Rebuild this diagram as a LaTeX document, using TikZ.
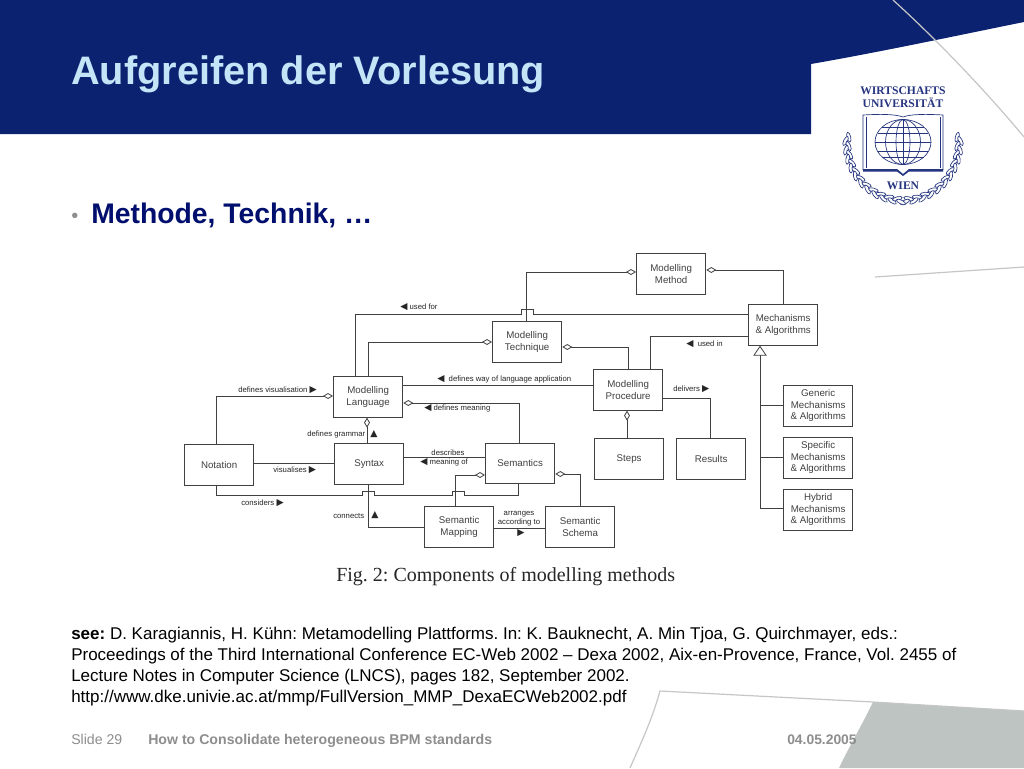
\documentclass[tikz,border=0pt]{standalone}
\usepackage{fontspec}
\setmainfont{Liberation Sans}
\newfontfamily\serifface{Liberation Serif}
\newfontfamily\symface{DejaVu Sans}
\usetikzlibrary{arrows.meta,positioning}
\definecolor{navy}{HTML}{0B2270}
\definecolor{titleblue}{HTML}{C4E4F8}
\definecolor{headblue}{HTML}{000F6E}
\definecolor{ruleg}{HTML}{C4C7C6}
\definecolor{wedge}{HTML}{BEC4C2}
\definecolor{footg}{HTML}{8E8E8E}
\definecolor{ink}{HTML}{404040}
\definecolor{logob}{HTML}{25357F}
\newcommand{\lf}{{\symface\fontsize{7}{7}\selectfont\char"25C0}}
\newcommand{\rt}{{\symface\fontsize{7}{7}\selectfont\char"25B6}}
\newcommand{\up}{{\symface\fontsize{7}{7}\selectfont\char"25B2}}
\frenchspacing
\tikzset{
  x=0.75pt,y=-0.75pt,
  box/.style={draw=ink,line width=0.72pt,fill=white,minimum width=52pt,minimum height=30.5pt,inner sep=0pt,align=center,text=ink,font=\fontsize{7.3}{8.7}\selectfont,anchor=north west},
  wire/.style={draw=ink,line width=0.72pt},
  dia/.style={wire,{Diamond[open,length=7.5pt,width=4.4pt,line width=0.6pt]}-},
  lab/.style={inner sep=0pt,anchor=west,text=black!85,font=\fontsize{5.8}{6}\selectfont},
  labc/.style={lab,anchor=center},
  body/.style={inner sep=0pt,anchor=base west,font=\fontsize{12.75}{15}\selectfont},
  foot/.style={inner sep=0pt,anchor=base west,text=footg,font=\fontsize{10.6}{12}\selectfont},
  logot/.style={inner sep=0pt,text=logob,font=\serifface\bfseries\fontsize{8.7}{9}\selectfont},
  leaf/.style={draw=logob,fill=white,line width=0.5pt},
  capt/.style={inner sep=0pt,anchor=base west,text=black!85,font=\serifface\fontsize{15}{17}\selectfont},
}
\begin{document}
\begin{tikzpicture}
\useasboundingbox (0,0) rectangle (1024,768);
\fill[white] (0,0) rectangle (1024,768);
% template
\fill[navy] (0,0) -- (1024,0) -- (1024,22) .. controls (950,37) and (880,52) .. (811,64) -- (811,134) -- (0,134) -- cycle;
\draw[ruleg,line width=0.9pt] (893,0) .. controls (935,38) and (985,90) .. (1024,137);
\draw[ruleg,line width=0.9pt] (875,277) -- (1024,267);
\fill[wedge] (873,702) -- (1024,711) -- (1024,768) -- (839,768) .. controls (850,745) and (862,725) .. cycle;
\draw[ruleg,line width=0.9pt] (630,768) .. controls (640,745) and (652,720) .. (660,691) -- (873,702) -- (1024,711);
% titles
\node[inner sep=0pt,anchor=base west,text=titleblue,font=\bfseries\fontsize{29.8}{32}\selectfont] (title) at (71,84) {Aufgreifen der Vorlesung};
\node[inner sep=0pt,anchor=base west,text=footg,font=\fontsize{15}{18}\selectfont] (bullet) at (71,222) {•};
\node[inner sep=0pt,anchor=base west,text=headblue,font=\bfseries\fontsize{21.25}{24}\selectfont] (meth) at (91,223) {Methode, Technik, …};
% logo
\foreach \a in {-6,3,...,84}{
  \path[leaf] (903,143) ++(\a:54.5 and 56) ellipse [x radius=5,y radius=1.9,rotate=-\a+70];
  \path[leaf] (903,143) ++(\a+4:57.5 and 59) ellipse [x radius=5,y radius=1.9,rotate=-\a+110];
  \path[leaf] (903,143) ++(180-\a:54.5 and 56) ellipse [x radius=5,y radius=1.9,rotate=\a-70];
  \path[leaf] (903,143) ++(176-\a:57.5 and 59) ellipse [x radius=5,y radius=1.9,rotate=\a-110];
}
\node[logot] (w1) at (903,91) {WIRTSCHAFTS};
\node[logot] (w2) at (903,103) {UNIVERSITÄT};
\node[logot] (w3) at (903,186) {WIEN};
\draw[logob,line width=0.5pt] (863,170) -- (863,115) .. controls (880,114) and (895,114) .. (903,117) .. controls (911,114) and (926,114) .. (943,115) -- (943,170);
\draw[logob,line width=0.5pt] (866,168) -- (866,117) (940,117) -- (940,168);
\fill[logob] (863,169) -- (897,169) -- (903,174) -- (909,169) -- (943,169) -- (943,171.5) -- (909,171.5) -- (903,176) -- (897,171.5) -- (863,171.5) -- cycle;
\begin{scope}[logob,line width=0.5pt]
\draw (903,142) ellipse [x radius=28,y radius=22.5];
\draw (903,142) ellipse [x radius=17.5,y radius=22.5];
\draw (903,142) ellipse [x radius=7,y radius=22.5];
\draw (903,119.5) -- (903,164.5) (875,142) -- (931,142);
\draw (882,127) -- (924,127) (878,133) -- (928,133) (878,151) -- (928,151) (882,157) -- (924,157);
\end{scope}
% boxes
\node[box] (method) at (636,253) {Modelling\\Method};
\node[box] (mech) at (748,304) {Mechanisms\\\& Algorithms};
\node[box] (tech) at (492,321) {Modelling\\Technique};
\node[box] (proc) at (593,369) {Modelling\\Procedure};
\node[box] (lang) at (333,376) {Modelling\\Language};
\node[box] (nota) at (184,444) {Notation};
\node[box] (synt) at (334,443) {Syntax};
\node[box] (sema) at (485,442.5) {Semantics};
\node[box] (steps) at (594,438) {Steps};
\node[box] (res) at (676,438) {Results};
\node[box] (gen) at (783,385) {Generic\\Mechanisms\\\& Algorithms};
\node[box] (spec) at (783,437) {Specific\\Mechanisms\\\& Algorithms};
\node[box] (hyb) at (783,489) {Hybrid\\Mechanisms\\\& Algorithms};
\node[box] (map) at (424,506) {Semantic\\Mapping};
\node[box] (schema) at (545,506) {Semantic\\Schema};
% connectors
\draw[wire] (355,0 |- lang.north) -- (355,314) -- (521,314) -- (521,309) -- (533,309) -- (533,314) -- (mech.west |- 0,314);
\draw[dia] (tech.west |- 0,342) -- (368,342) -- (368,0 |- lang.north);
\draw[dia] (method.west |- 0,272) -- (526,272) -- (526,0 |- tech.north);
\draw[dia] (method.east |- 0,270) -- (783,270) -- (783,0 |- mech.north);
\draw[wire] (mech.west |- 0,336) -- (650,336) -- (650,0 |- proc.north);
\draw[dia] (tech.east |- 0,347) -- (628,347) -- (628,0 |- proc.north);
\draw[wire] (lang.east |- 0,385) -- (proc.west |- 0,385);
\draw[dia] (627,0 |- proc.south) -- (627,0 |- steps.north);
\draw[wire] (proc.east |- 0,398) -- (710,398) -- (710,0 |- res.north);
\draw[wire,-{Triangle[open,length=7.5pt,width=10pt,line width=0.6pt]}] (760,508) -- (760,0 |- mech.south);
\draw[wire] (760,405) -- (gen.west |- 0,405);
\draw[wire] (760,457) -- (spec.west |- 0,457);
\draw[wire] (760,508) -- (hyb.west |- 0,508);
\draw[dia] (lang.west |- 0,396) -- (216,396) -- (216,0 |- nota.north);
\draw[dia] (lang.east |- 0,403) -- (519,403) -- (519,0 |- sema.north);
\draw[dia] (367,0 |- lang.south) -- (367,0 |- synt.north);
\draw[wire] (nota.east |- 0,463) -- (synt.west |- 0,463);
\draw[wire] (synt.east |- 0,457) -- (sema.west |- 0,457);
\draw[wire] (216,0 |- nota.south) -- (216,495) -- (362,495) -- (362,491) -- (374,491) -- (374,495) -- (452,495) -- (452,491) -- (464,491) -- (464,495) -- (518,495) -- (518,0 |- sema.south);
\draw[wire] (368,0 |- synt.south) -- (368,527) -- (map.west |- 0,527);
\draw[dia] (sema.west |- 0,475) -- (455,475) -- (455,0 |- map.north);
\draw[dia] (sema.east |- 0,474) -- (580,474) -- (580,0 |- schema.north);
\draw[wire] (map.east |- 0,528) -- (schema.west |- 0,528);
% connector labels
\node[lab] (l1) at (400,307) {\lf\ used for};
\node[lab] (l2) at (238,390) {defines visualisation \rt};
\node[lab] (l3) at (437,379.5) {\lf\ \ defines way of language application};
\node[lab] (l4) at (424,408.5) {\lf\ defines meaning};
\node[lab] (l5) at (307,434.5) {defines grammar};
\node[labc] (l5a) at (374,434) {\up};
\node[lab] (l6) at (273,470) {visualises \rt};
\node[labc] (l7) at (448,452.5) {describes};
\node[lab] (l8) at (420,462.5) {\lf\ meaning of};
\node[lab] (l9) at (241,503) {considers \rt};
\node[lab] (l10) at (333,516) {connects};
\node[labc] (l10a) at (375,515) {\up};
\node[labc] (l11) at (519,514) {arranges};
\node[labc] (l12) at (519,522) {according to};
\node[labc] (l13) at (521,533) {\rt};
\node[lab] (l14) at (686,344) {\lf\ \ used in};
\node[lab] (l15) at (673,389) {delivers \rt};
% caption and text
\node[capt] (cap) at (336,581) {Fig. 2: Components of modelling methods};
\node[body] (t1) at (71,639) {\textbf{see:} D. Karagiannis, H. Kühn: Metamodelling Plattforms. In: K. Bauknecht, A. Min Tjoa, G. Quirchmayer, eds.:};
\node[body] (t2) at (71,660) {Proceedings of the Third International Conference EC-Web 2002 – Dexa 2002, Aix-en-Provence, France, Vol. 2455 of};
\node[body] (t3) at (71,681) {Lecture Notes in Computer Science (LNCS), pages 182, September 2002.};
\node[body] (t4) at (71,702) {http://www.dke.univie.ac.at/mmp/FullVersion\_MMP\_DexaECWeb2002.pdf};
\node[foot] (f1) at (71,744) {Slide 29};
\node[foot,font=\bfseries\fontsize{10.6}{12}\selectfont] (f2) at (148,744) {How to Consolidate heterogeneous BPM standards};
\node[foot,font=\bfseries\fontsize{10.4}{12}\selectfont] (f3) at (787,744) {04.05.2005};
\end{tikzpicture}
\end{document}
